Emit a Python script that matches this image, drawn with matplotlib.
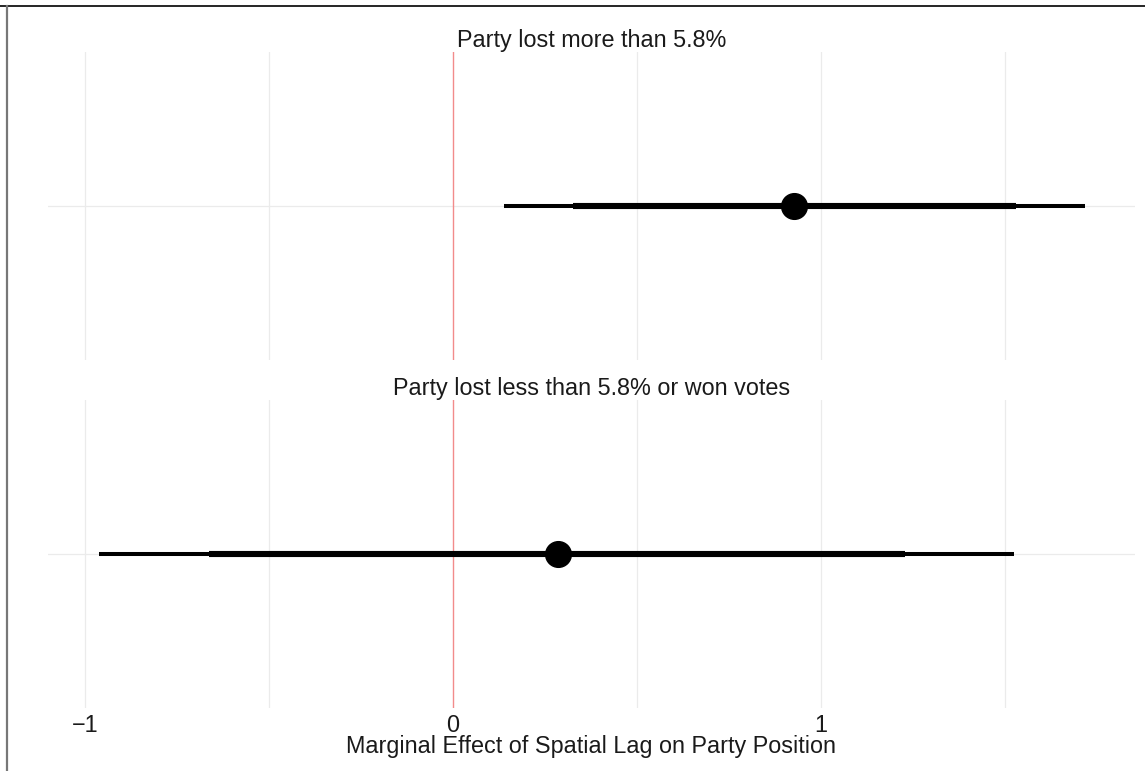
import matplotlib.pyplot as plt
from matplotlib.lines import Line2D

plt.rcParams['font.family'] = ['Liberation Sans', 'DejaVu Sans']

# marginal effects by vote-change group (estimate, 90% and 95% intervals)
groups = ["Party lost more than 5.8%", "Party lost less than 5.8% or won votes"]
estimate = [0.927, 0.285]
ci90_low = [0.326, -0.663]
ci90_high = [1.530, 1.228]
ci95_low = [0.139, -0.961]
ci95_high = [1.717, 1.524]

xticks = [-1, 0, 1]
xminor = [-0.5, 0.5, 1.5]

fs = 16.8
txt = '#1a1a1a'

fig = plt.figure(figsize=(11.45, 7.71), dpi=100)
left, width = 48 / 1145, (1135 - 48) / 1145
panel_tops = [52, 400]
panel_h = 308

for i, g in enumerate(groups):
    top = panel_tops[i]
    ax = fig.add_axes([left, 1 - (top + panel_h) / 771, width, panel_h / 771])
    ax.set_xlim(-1.10, 1.853)
    ax.set_ylim(0.4, 1.6)
    for x in xticks + xminor:
        if x == 0:
            continue
        ax.axvline(x, color='#ebebeb', lw=0.9, zorder=0)
    ax.axhline(1, color='#ebebeb', lw=0.9, zorder=0)
    ax.axvline(0, color='#f28b8b', lw=1.0, zorder=1)

    ax.plot([ci95_low[i], ci95_high[i]], [1, 1], color='black', lw=2.9,
            solid_capstyle='butt', zorder=2)
    ax.plot([ci90_low[i], ci90_high[i]], [1, 1], color='black', lw=4.4,
            solid_capstyle='butt', zorder=3)
    ax.plot(estimate[i], 1, 'o', color='black', ms=18.5, zorder=4)

    ax.set_title(g, fontsize=fs, color=txt, pad=1.5)
    ax.set_yticks([])
    for s in ax.spines.values():
        s.set_visible(False)
    if i == 1:
        ax.set_xticks(xticks)
        ax.set_xticklabels(['\u22121', '0', '1'], fontsize=fs, color=txt)
        ax.tick_params(axis='x', length=0, pad=4)
        ax.set_xlabel('Marginal Effect of Spatial Lag on Party Position',
                      fontsize=fs, color=txt, labelpad=-1)
    else:
        ax.set_xticks([])

# frame lines along the top and left edges
fig.add_artist(Line2D([0, 1], [1 - 6 / 771, 1 - 6 / 771], color='black', lw=1.2,
                      transform=fig.transFigure))
fig.add_artist(Line2D([7 / 1145, 7 / 1145], [0, 1 - 6 / 771], color='#777777', lw=1.6,
                      transform=fig.transFigure))

fig.savefig('out.png', dpi=100)
